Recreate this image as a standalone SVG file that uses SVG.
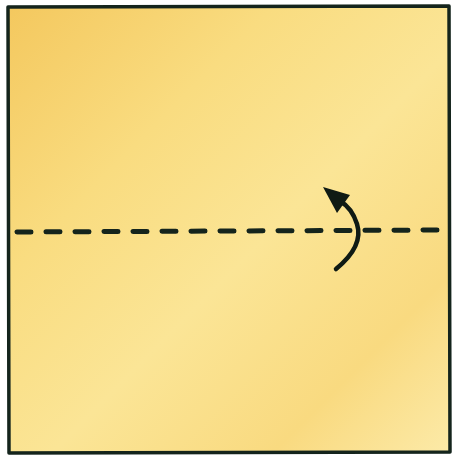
<svg xmlns="http://www.w3.org/2000/svg" width="455" height="460" viewBox="0 0 455 460">
<defs>
<linearGradient id="paper" x1="0" y1="0" x2="1" y2="1">
<stop offset="0" stop-color="#F4C85E"/>
<stop offset="0.3" stop-color="#F9DC80"/>
<stop offset="0.55" stop-color="#FBE596"/>
<stop offset="0.8" stop-color="#F9DA80"/>
<stop offset="1" stop-color="#FCEAA8"/>
</linearGradient>
<style>
.edge{fill:url(#paper);stroke:#14241c;stroke-width:3.5;stroke-linejoin:round}
.fold{fill:none;stroke:#14241c;stroke-width:5;stroke-dasharray:14 15;stroke-linecap:round}
.arr{fill:none;stroke:#0f1a14;stroke-width:4.5;stroke-linecap:round}
.head{fill:#0f1a14}
</style>
</defs>
<rect width="455" height="460" fill="#ffffff"/>
<g id="paper-square">
<path class="edge" d="M8,7 L449,6 L450,452 L9,453 Z"/>
</g>
<g id="connectors">
<line class="fold" x1="17" y1="232" x2="444" y2="230"/>
<path class="arr" d="M336,269 Q364,246 357,224 Q352,208 340,201"/>
<polygon class="head" points="323,187 350,195 337,213"/>
</g>
</svg>
